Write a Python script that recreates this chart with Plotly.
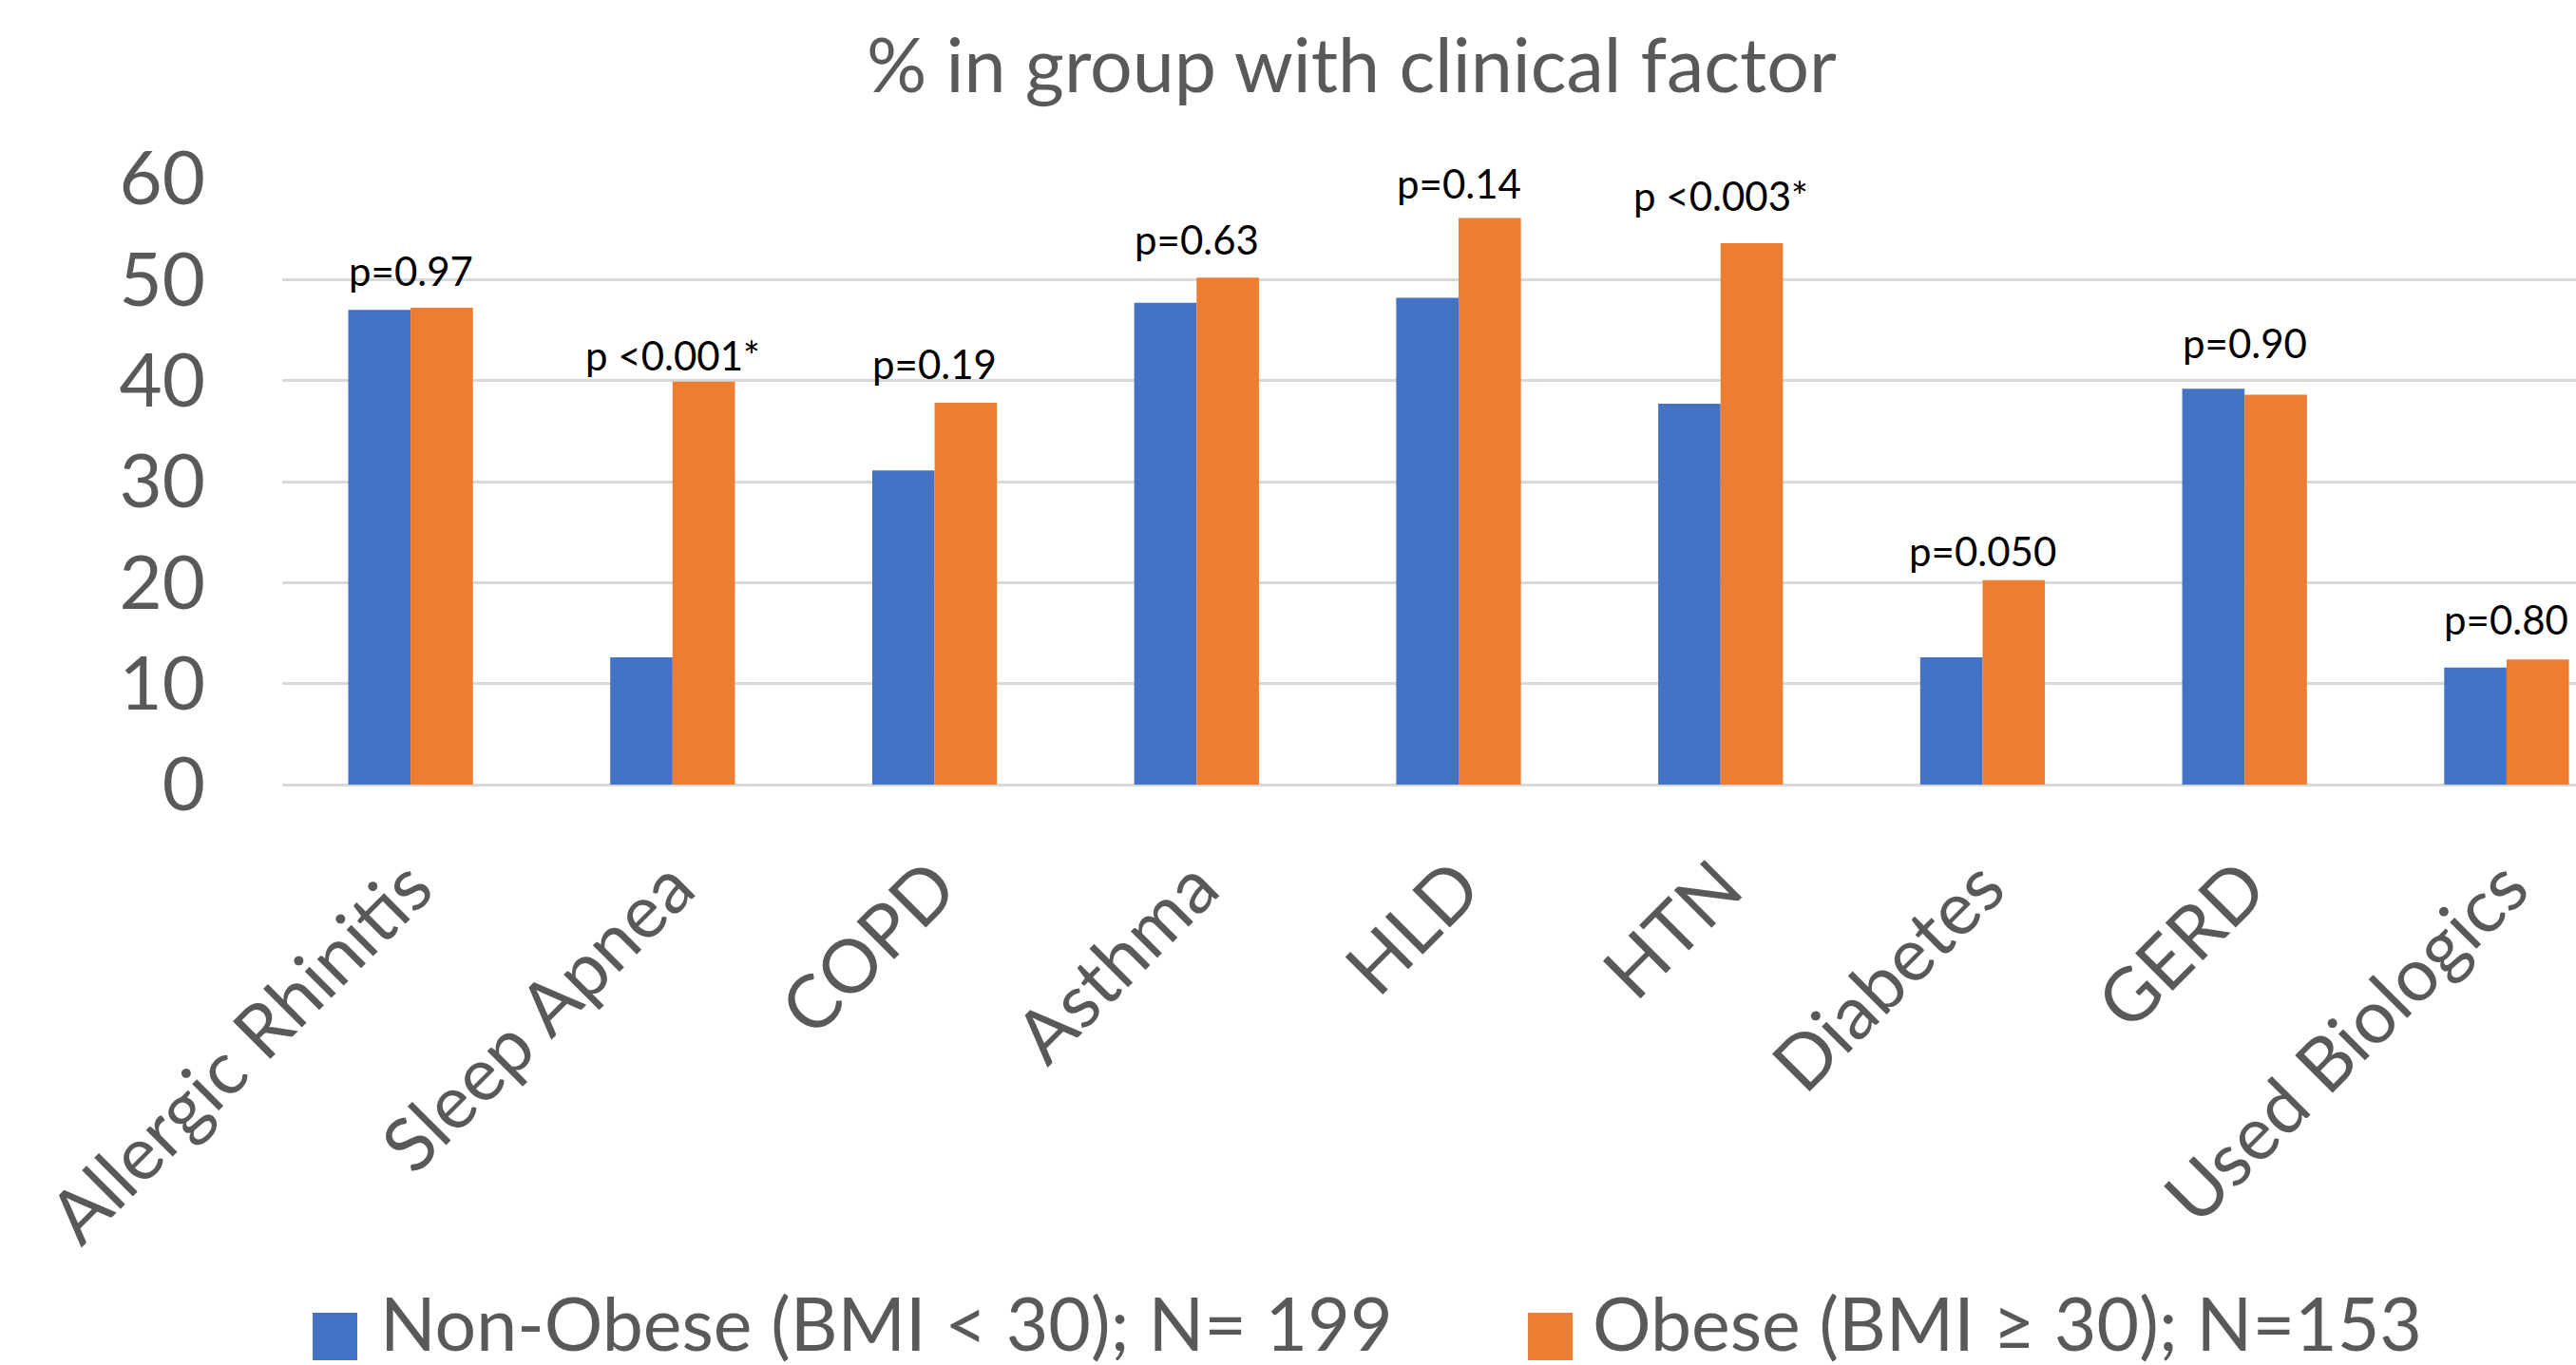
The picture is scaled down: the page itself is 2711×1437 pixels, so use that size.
import plotly.graph_objects as go

categories = ["Allergic Rhinitis", "Sleep Apnea", "COPD", "Asthma", "HLD", "HTN",
              "Diabetes", "GERD", "Used Biologics"]
non_obese = [47.0, 12.6, 31.1, 47.7, 48.2, 37.7, 12.6, 39.2, 11.6]
obese = [47.2, 39.9, 37.8, 50.2, 56.1, 53.6, 20.25, 38.6, 12.4]
p_labels = ["p=0.97", "p <0.001*", "p=0.19", "p=0.63", "p=0.14", "p <0.003*",
            "p=0.050", "p=0.90", "p=0.80"]
y_ticks = [0, 10, 20, 30, 40, 50, 60]

series_names = ["Non-Obese (BMI < 30); N= 199", "Obese (BMI \u2265 30); N=153"]

# layout-only offsets of the p-value text above the taller bar (data units)
label_offsets = [3.65, 2.57, 3.83, 3.75, 3.4, 4.68, 2.89, 4.54, 3.92]

BLUE = "#4472C4"
ORANGE = "#ED7D31"
GREY = "#595959"
FONT = "Lato"

W, H = 2711, 1437
L, R, T, B = 297, 0, 188, 611
PW, PH = W - L - R, H - T - B

fig = go.Figure()
fig.add_trace(go.Bar(x=categories, y=non_obese, name=series_names[0],
                     marker=dict(color=BLUE, line=dict(width=0))))
fig.add_trace(go.Bar(x=categories, y=obese, name=series_names[1],
                     marker=dict(color=ORANGE, line=dict(width=0))))

annotations = []
for i, (lab, a, b) in enumerate(zip(p_labels, non_obese, obese)):
    annotations.append(dict(x=categories[i], y=max(a, b) + label_offsets[i],
                            xref="x", yref="y", text=lab, showarrow=False,
                            xanchor="center", yanchor="middle",
                            font=dict(family=FONT, size=42, color="#000000")))

def px_x(px):
    return (px - L) / PW

def px_y(py):
    return (H - B - py) / PH

# title
annotations.append(dict(x=px_x(1422), y=px_y(66), xref="paper", yref="paper",
                        text="% in group with clinical factor", showarrow=False,
                        xanchor="center", yanchor="middle",
                        font=dict(family=FONT, size=79, color=GREY)))

# manual legend
shapes = []
legend_items = [(329, 398, series_names[0], BLUE), (1608, 1674, series_names[1], ORANGE)]
for sx, tx, name, col in legend_items:
    shapes.append(dict(type="rect", xref="paper", yref="paper",
                       x0=px_x(sx), x1=px_x(sx + 47), y0=px_y(1432), y1=px_y(1382),
                       fillcolor=col, line=dict(width=0)))
    annotations.append(dict(x=px_x(tx), y=px_y(1392), xref="paper", yref="paper",
                            text=name, showarrow=False, xanchor="left", yanchor="middle",
                            font=dict(family=FONT, size=77, color=GREY)))

fig.update_layout(
    width=W, height=H,
    margin=dict(l=L, r=R, t=T, b=B, pad=0),
    paper_bgcolor="white", plot_bgcolor="white",
    barmode="group", bargap=0.524, bargroupgap=0,
    showlegend=False,
    font=dict(family=FONT, color=GREY),
    annotations=annotations,
    shapes=shapes,
)
fig.update_xaxes(type="category", range=[-0.49, 8.265], showgrid=False, showline=False,
                 zeroline=False, ticks="", tickangle=-45, automargin=False,
                 ticklabelstandoff=46,
                 tickfont=dict(family=FONT, size=78, color=GREY))
fig.update_yaxes(range=[0, 60], tickvals=y_ticks, showgrid=True, gridcolor="#D9D9D9",
                 gridwidth=2.5, zeroline=True, zerolinecolor="#D9D9D9", zerolinewidth=2.5,
                 showline=False, ticks="", ticklabelstandoff=80, automargin=False,
                 tickfont=dict(family=FONT, size=78, color=GREY))

fig.write_html("out.html", config={"displayModeBar": False},
               post_script="document.body.style.margin='0';document.body.style.overflow='hidden';")
